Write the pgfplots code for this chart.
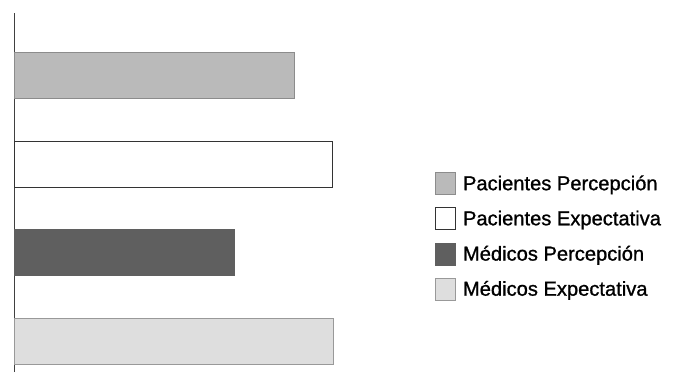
\documentclass[border=0pt]{standalone}
\usepackage{fontspec}
\setmainfont{Liberation Sans}
\newfontfamily\legfont{Liberation Sans}[RawFeature={embolden=1}]
\usepackage{pgfplots}
\pgfplotsset{compat=1.18}
\definecolor{pacper}{HTML}{BABABA}
\definecolor{medper}{HTML}{5F5F5F}
\definecolor{medexp}{HTML}{DEDEDE}
\pgfplotsset{
  sq legend/.style={legend image code/.code={\draw[##1] (0bp,-11bp) rectangle (20bp,11bp);}},
}
\begin{document}
\begin{tikzpicture}[x=1bp,y=1bp]
\useasboundingbox (0,0) rectangle (673,372);
\begin{axis}[
  at={(14bp,0bp)}, anchor=south west,
  scale only axis, width=400bp, height=359bp,
  xmin=0, xmax=4, ymin=0.65, ymax=4.706,
  axis x line=none, axis y line*=left,
  y axis line style={draw=black!75, line width=0.8bp},
  xtick=\empty, ytick=\empty,
  clip=false,
  legend style={at={(axis description cs:1.0525,0.557)}, anchor=north west,
    draw=none, fill=none, inner sep=0pt, row sep=12.5bp, column sep=5bp,
    font=\legfont\fontsize{20.2}{24}\selectfont, cells={anchor=west}},
]
\addplot[xbar, bar shift=0pt, bar width=46bp, fill=pacper, draw=black!45, line width=0.6bp, sq legend]
  coordinates {(2.80,4)};
\addlegendentry{Pacientes Percepción}
\addplot[xbar, bar shift=0pt, bar width=46bp, fill=white, draw=black!80, line width=0.8bp, sq legend]
  coordinates {(3.18,3)};
\addlegendentry{Pacientes Expectativa}
\addplot[xbar, bar shift=0pt, bar width=46bp, fill=medper, draw=medper, line width=0.6bp, sq legend]
  coordinates {(2.20,2)};
\addlegendentry{Médicos Percepción}
\addplot[xbar, bar shift=0pt, bar width=46bp, fill=medexp, draw=black!40, line width=0.6bp, sq legend]
  coordinates {(3.19,1)};
\addlegendentry{Médicos Expectativa}
\end{axis}
\end{tikzpicture}
\end{document}
